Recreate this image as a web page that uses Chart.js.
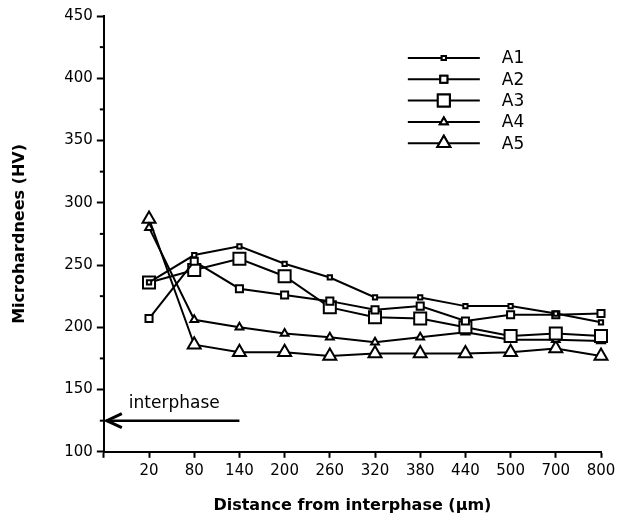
<!DOCTYPE html>
<html>
<head>
<meta charset="utf-8">
<script src="https://cdn.jsdelivr.net/npm/chart.js@4.4.1/dist/chart.umd.min.js"></script>
<style>
  html, body { margin: 0; padding: 0; background: #fff; }
  #wrap { width: 631px; height: 517px; }
</style>
</head>
<body>
<div id="wrap"><canvas id="chart"></canvas></div>
<script>
// distances from interphase (um)
const categories = ['20', '80', '140', '200', '260', '320', '380', '440', '500', '700', '800'];

// microhardness (HV) per sample
const a1 = [236, 258, 265, 251, 240, 224, 224, 217, 217, 211, 204];
const a2 = [207, 253, 231, 226, 221, 214, 217, 205, 210, 210, 211];
const a3 = [236, 246, 255, 241, 216, 208, 207, 200, 193, 195, 193];
const a4 = [280, 206, 200, 195, 192, 188, 192, 196, 190, 190, 189];
const a5 = [287, 186, 180, 180, 177, 179, 179, 179, 180, 183, 177];

const seriesNames = ['A1', 'A2', 'A3', 'A4', 'A5'];

const yMin = 100, yMax = 450, yMajor = 50, yMinor = 25;

// interphase arrow: at HV 125, running from the axis to the "140" slot
const arrowValue = 125;
const arrowEnd = '140';

const FONT = '"DejaVu Sans", Verdana, sans-serif';

// first slot is empty (axis origin)
const labels = [''].concat(categories);
const pad = arr => [null].concat(arr);

const markers = [
  { style: 'rect', radius: 3 },
  { style: 'rect', radius: 5 },
  { style: 'rect', radius: 8.5 },
  { style: 'triangle', radius: 4.5 },
  { style: 'triangle', radius: 7.5 }
];

const datasets = [a1, a2, a3, a4, a5].map((d, i) => ({
  label: seriesNames[i],
  data: pad(d),
  borderColor: '#000',
  borderWidth: 2,
  backgroundColor: '#fff',
  pointStyle: markers[i].style,
  pointRadius: markers[i].radius,
  pointBorderWidth: 2,
  pointBackgroundColor: '#fff',
  pointBorderColor: '#000',
  tension: 0,
  spanGaps: false
}));

// minor ticks on y, arrow + label, and the legend
const extras = {
  id: 'extras',
  afterDraw(chart) {
    const ctx = chart.ctx;
    const xs = chart.scales.x, ys = chart.scales.y;
    const area = chart.chartArea;
    ctx.save();
    ctx.strokeStyle = '#000';
    ctx.fillStyle = '#000';

    // minor y ticks
    ctx.lineWidth = 2;
    for (let v = yMin + yMinor; v < yMax; v += yMajor) {
      const py = ys.getPixelForValue(v);
      ctx.beginPath();
      ctx.moveTo(area.left - 4, py);
      ctx.lineTo(area.left, py);
      ctx.stroke();
    }

    // interphase arrow
    const ay = ys.getPixelForValue(arrowValue);
    const ax0 = xs.getPixelForValue(0);
    const ax1 = xs.getPixelForValue(labels.indexOf(arrowEnd));
    ctx.lineWidth = 2.5;
    ctx.beginPath();
    ctx.moveTo(ax0 + 2, ay);
    ctx.lineTo(ax1, ay);
    ctx.stroke();
    ctx.lineWidth = 3;
    ctx.beginPath();
    ctx.moveTo(ax0 + 18, ay - 7);
    ctx.lineTo(ax0 + 3, ay);
    ctx.lineTo(ax0 + 18, ay + 7);
    ctx.stroke();
    ctx.font = '17px ' + FONT;
    ctx.textBaseline = 'middle';
    ctx.textAlign = 'left';
    ctx.fillText('interphase', ax0 + 25, ay - 17);

    // legend
    const lx0 = area.left + 304, lx1 = area.left + 376, ly0 = area.top + 42, step = 21.3;
    chart.data.datasets.forEach((ds, i) => {
      const y = ly0 + i * step;
      ctx.lineWidth = 2;
      ctx.beginPath();
      ctx.moveTo(lx0, y);
      ctx.lineTo(lx1, y);
      ctx.stroke();
      ctx.fillStyle = '#fff';
      ctx.lineWidth = 2;
      Chart.helpers.drawPoint(ctx, { pointStyle: ds.pointStyle, radius: ds.pointRadius, rotation: 0, borderWidth: 2 }, (lx0 + lx1) / 2, y);
      ctx.fill();
      ctx.stroke();
      ctx.fillStyle = '#000';
      ctx.font = '17px ' + FONT;
      ctx.fillText(ds.label, lx1 + 22, y + 1);
    });
    ctx.restore();
  }
};

new Chart(document.getElementById('chart'), {
  type: 'line',
  data: { labels: labels, datasets: datasets },
  options: {
    responsive: true,
    maintainAspectRatio: false,
    animation: false,
    layout: { padding: { top: 16, right: 30, left: 10, bottom: 2 } },
    plugins: {
      legend: { display: false },
      tooltip: { enabled: false }
    },
    scales: {
      x: {
        type: 'category',
        offset: false,
        grid: { drawOnChartArea: false, tickLength: 6, tickWidth: 2, tickColor: '#000' },
        border: { color: '#000', width: 2 },
        ticks: { color: '#000', font: { family: FONT, size: 15 }, maxRotation: 0, autoSkip: false, padding: 4 },
        title: {
          display: true,
          text: 'Distance from interphase (μm)',
          color: '#000',
          font: { family: FONT, size: 16, weight: 'bold' },
          padding: { top: 12, bottom: 0 }
        }
      },
      y: {
        min: yMin,
        max: yMax,
        grid: { drawOnChartArea: false, tickLength: 7, tickWidth: 2, tickColor: '#000' },
        border: { color: '#000', width: 2 },
        ticks: { stepSize: yMajor, color: '#000', font: { family: FONT, size: 15 }, padding: 4 },
        title: {
          display: true,
          text: 'Microhardnees (HV)',
          color: '#000',
          font: { family: FONT, size: 16, weight: 'bold' },
          padding: { top: 0, bottom: 31 }
        }
      }
    }
  },
  plugins: [extras]
});
</script>
</body>
</html>
